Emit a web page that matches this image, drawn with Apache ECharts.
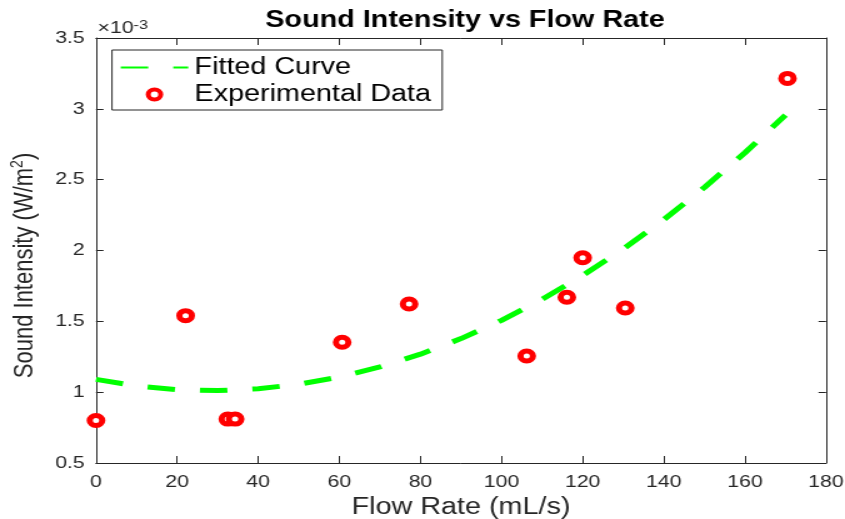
<!DOCTYPE html>
<html>
<head>
<meta charset="utf-8">
<script src="https://cdn.jsdelivr.net/npm/echarts@6/dist/echarts.min.js"></script>
<style>
  html, body { margin: 0; padding: 0; background: #fff; overflow: hidden; }
  /* the reference figure is stretched horizontally, so draw narrower and scale */
  #chart { width: 676px; height: 519px; transform: scaleX(1.25); transform-origin: 0 0; }
</style>
</head>
<body>
<div id="chart"></div>
<script>
// measured points (intensity in units of 1e-3 W/m^2)
const flowRate = [0, 22.1, 32.5, 34.3, 60.7, 77.2, 106.2, 116.1, 120.0, 130.5, 170.5];
const intensity = [0.80, 1.54, 0.81, 0.81, 1.352, 1.622, 1.255, 1.670, 1.949, 1.594, 3.215];

// fitted curve
const fitFlow = [0, 10, 20, 30, 40, 50, 60, 70, 80, 90, 100, 110, 120, 130, 140, 150, 160, 170];
const fitIntensity = [1.090, 1.044, 1.018, 1.011, 1.024, 1.056, 1.107, 1.178, 1.268, 1.378,
                      1.507, 1.656, 1.824, 2.011, 2.218, 2.445, 2.690, 2.956];

// axis ticks
const xMin = 0, xMax = 180, xStep = 20;
const yMin = 0.5, yMax = 3.5, yStep = 0.5;

const axisColor = '#262626';
const font = '"Liberation Sans", Arial, Helvetica, sans-serif';

const chart = echarts.init(document.getElementById('chart'));

const frameAxis = (pos, len) => ({
  type: 'value',
  position: pos,
  axisLine: { show: true, onZero: false, lineStyle: { color: axisColor, width: 1 } },
  axisTick: { show: true, inside: true, length: len, lineStyle: { color: axisColor } },
  axisLabel: { show: false },
  splitLine: { show: false }
});

const option = {
  animation: false,
  title: {
    text: 'Sound Intensity vs Flow Rate',
    left: 367,
    textAlign: 'center',
    top: 4,
    textStyle: { fontSize: 23, fontWeight: 'bold', color: '#000', fontFamily: font }
  },
  grid: { left: 76.8, right: 15.2, top: 38, bottom: 56, outerBoundsMode: 'none' },
  legend: {
    orient: 'vertical',
    left: 89.6,
    top: 50,
    backgroundColor: '#fff',
    borderColor: axisColor,
    borderWidth: 1,
    padding: [6, 9, 4, 6],
    itemGap: 4,
    itemWidth: 54,
    itemHeight: 10,
    textStyle: { fontSize: 23, color: '#000', fontFamily: font },
    data: [
      { name: 'Fitted Curve', itemStyle: { opacity: 0 } },
      { name: 'Experimental Data', itemStyle: { borderWidth: 4 } }
    ]
  },
  graphic: [{
    type: 'text',
    left: 78,
    top: 19,
    style: {
      text: '×10{sup|-3}',
      fill: axisColor,
      font: '17px ' + font,
      rich: { sup: { fontSize: 13, fill: axisColor, verticalAlign: 'top', padding: [0, 0, 6, 0] } }
    }
  }],
  xAxis: [
    Object.assign(frameAxis('bottom', 7), {
      min: xMin, max: xMax, interval: xStep,
      axisLabel: { show: true, color: axisColor, fontSize: 17, fontFamily: font, margin: 11 },
      name: 'Flow Rate (mL/s)',
      nameLocation: 'middle',
      nameGap: 32,
      nameTextStyle: { fontSize: 23, color: axisColor, fontFamily: font }
    }),
    Object.assign(frameAxis('top', 7), { min: xMin, max: xMax, interval: xStep })
  ],
  yAxis: [
    Object.assign(frameAxis('left', 6), {
      min: yMin, max: yMax, interval: yStep,
      axisLabel: { show: true, color: axisColor, fontSize: 17, fontFamily: font, margin: 9 },
      name: 'Sound Intensity (W/m{sup|2})',
      nameLocation: 'middle',
      nameGap: 38,
      nameTextStyle: {
        fontSize: 22, color: axisColor, fontFamily: font, lineHeight: 26,
        padding: [0, 30, 0, 0],
        rich: { sup: { fontSize: 14, color: axisColor, fontFamily: font, verticalAlign: 'top', lineHeight: 14 } }
      }
    }),
    Object.assign(frameAxis('right', 6), { min: yMin, max: yMax, interval: yStep })
  ],
  series: [
    {
      name: 'Fitted Curve',
      type: 'line',
      data: fitFlow.map((x, i) => [x, fitIntensity[i]]),
      symbol: 'none',
      lineStyle: { color: '#00ff00', width: 5, type: [22, 20] },
      itemStyle: { color: '#00ff00' },
      silent: true,
      z: 2
    },
    {
      name: 'Experimental Data',
      type: 'scatter',
      data: flowRate.map((x, i) => [x, intensity[i]]),
      symbol: 'circle',
      symbolSize: 10,
      itemStyle: { color: '#fff', borderColor: '#ff0000', borderWidth: 5, opacity: 1 },
      z: 3
    }
  ]
};

chart.setOption(option);
</script>
</body>
</html>
